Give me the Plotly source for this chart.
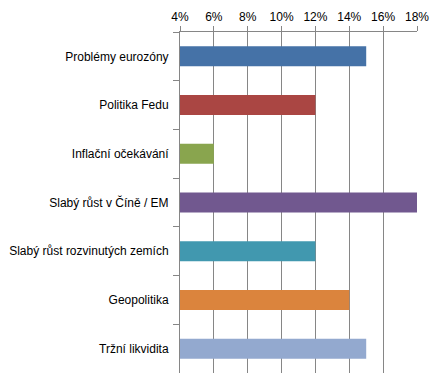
import plotly.graph_objects as go

categories = ["Problémy eurozóny", "Politika Fedu", "Inflační očekávání",
              "Slabý růst v Číně / EM", "Slabý růst rozvinutých zemích",
              "Geopolitika", "Tržní likvidita"]
values = [15, 12, 6, 18, 12, 14, 15]
colors = ["#4572A7", "#AA4643", "#89A54E", "#71588F", "#4198AF", "#DB843D", "#93A9CF"]
x_ticks = [4, 6, 8, 10, 12, 14, 16, 18]
x_tick_labels = [f"{v}%" for v in x_ticks]

fig = go.Figure(go.Bar(
    x=values, y=categories, orientation="h",
    marker=dict(color=colors, line=dict(width=0)),
    width=0.41, base=0,
))

axis_color = "#868686"
fig.update_layout(
    width=444, height=384,
    margin=dict(l=180, r=27, t=32, b=11, autoexpand=False),
    paper_bgcolor="white", plot_bgcolor="white",
    font=dict(family="Liberation Sans", size=12, color="#000000"),
    showlegend=False,
    bargap=0.59,
)
fig.update_xaxes(
    side="top", range=[4, 18], tickvals=x_ticks, ticktext=x_tick_labels,
    showgrid=True, gridcolor=axis_color, gridwidth=1,
    showline=True, linecolor=axis_color, linewidth=1,
    ticks="outside", ticklen=5, tickcolor=axis_color,
    zeroline=False, fixedrange=True, automargin=False,
)
fig.update_yaxes(
    autorange="reversed", tickson="boundaries",
    showline=True, linecolor=axis_color, linewidth=1,
    ticks="outside", ticklen=6, tickcolor=axis_color,
    showgrid=False, ticklabelstandoff=8, automargin=False,
)

fig.write_html(
    "out.html",
    config={"displayModeBar": False},
    post_script="document.body.style.margin='0';document.body.style.overflow='hidden';",
)
